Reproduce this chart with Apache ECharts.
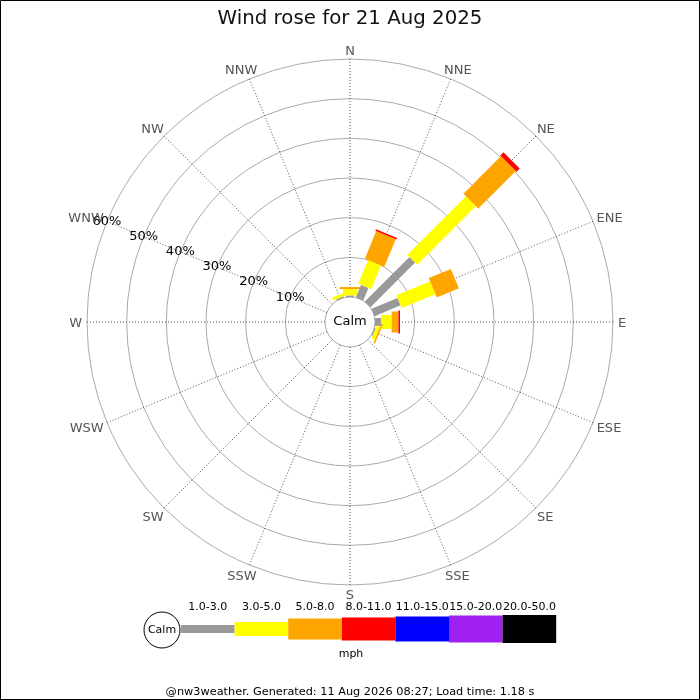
<!DOCTYPE html>
<html>
<head>
<meta charset="UTF-8">
<title>Wind rose</title>
<style>
	html, body { margin: 0; padding: 0; background: #fff; }
	#rose { width: 700px; height: 700px; }
</style>
</head>
<body>
<div id="rose"></div>
<script src="https://cdn.jsdelivr.net/npm/echarts@6/dist/echarts.min.js"></script>
<script>
// compass points, clockwise from north
var directions = ['N', 'NNE', 'NE', 'ENE', 'E', 'ESE', 'SE', 'SSE', 'S', 'SSW', 'SW', 'WSW', 'W', 'WNW', 'NW', 'NNW'];
// speed classes in mph
var speedBins = ['1.0-3.0', '3.0-5.0', '5.0-8.0', '8.0-11.0', '11.0-15.0', '15.0-20.0', '20.0-50.0'];

// % of the day in each direction, one array per speed class
var pct1to3   = [0.4, 3.4, 15.9, 7.1, 1.5, 0.3, 0, 0, 0, 0, 0, 0, 0, 0, 0, 0.3];
var pct3to5   = [1.6, 6.5, 20.9, 9.2, 2.7, 0.9, 0, 0, 0, 0, 0, 0, 0, 0, 0, 0.8];
var pct5to8   = [0.5, 7.5, 13.4, 6.0, 1.7, 0.4, 0, 0, 0, 0, 0, 0, 0, 0, 0, 0];
var pct8to11  = [0, 0.4, 1.1, 0, 0.4, 0, 0, 0, 0, 0, 0, 0, 0, 0, 0, 0];
var pct11to15 = [0, 0, 0, 0, 0, 0, 0, 0, 0, 0, 0, 0, 0, 0, 0, 0];
var pct15to20 = [0, 0, 0, 0, 0, 0, 0, 0, 0, 0, 0, 0, 0, 0, 0, 0];
var pct20to50 = [0, 0, 0, 0, 0, 0, 0, 0, 0, 0, 0, 0, 0, 0, 0, 0];
var binValues = [pct1to3, pct3to5, pct5to8, pct8to11, pct11to15, pct15to20, pct20to50];

// radius axis ticks (percent)
var radiusMax = 60;
var radiusStep = 10;

// look of each speed class: colour and bar thickness
var binColors = ['#999999', '#ffff00', '#ffa500', '#ff0000', '#0000ff', '#a020f0', '#000000'];
var binWidths = [8, 14, 21, 23, 25, 27, 28];

var fontName = 'DejaVu Sans';
// radius axis is laid along WNW, so angle 0 sits at compass 292.5
var axisOffset = 292.5;

function compassToAxis(i) {
	return (i * 22.5 - axisOffset + 360) % 360;
}

// stack the classes outwards in each direction: [end, angle, start, class]
var roseData = [];
// one label per compass point: [radius, angle, index]
var labelData = [];
for (var d = 0; d < directions.length; d++) {
	var sum = 0;
	for (var b = 0; b < binValues.length; b++) {
		var v = binValues[b][d];
		if (v > 0) {
			roseData.push([sum + v, compassToAxis(d), sum, b]);
			sum += v;
		}
	}
	labelData.push([radiusMax, compassToAxis(d), d]);
}

// unit vector pointing outwards at an angle value
function outward(api, ang) {
	var base = api.coord([0, ang]);
	var far = api.coord([radiusMax, ang]);
	var len = Math.sqrt(Math.pow(far[0] - base[0], 2) + Math.pow(far[1] - base[1], 2));
	return [(far[0] - base[0]) / len, (far[1] - base[1]) / len];
}

function renderBar(params, api) {
	var ang = api.value(1);
	var inner = api.coord([api.value(2), ang]);
	var outer = api.coord([api.value(0), ang]);
	var u = outward(api, ang);
	var bin = api.value(3);
	var hw = binWidths[bin] / 2;
	var nx = -u[1] * hw, ny = u[0] * hw;
	return {
		type: 'polygon',
		shape: {
			points: [
				[inner[0] + nx, inner[1] + ny],
				[outer[0] + nx, outer[1] + ny],
				[outer[0] - nx, outer[1] - ny],
				[inner[0] - nx, inner[1] - ny]
			]
		},
		style: { fill: binColors[bin] }
	};
}

// measure label width so the box can sit just outside the ring
var measureCtx = document.createElement('canvas').getContext('2d');
measureCtx.font = '13px "DejaVu Sans"';

function renderLabel(params, api) {
	var ang = api.value(1);
	var name = directions[api.value(2)];
	var p = api.coord([api.value(0), ang]);
	var u = outward(api, ang);
	var halfW = measureCtx.measureText(name).width / 2;
	var gap = 5;
	// diagonal labels sit a little further out vertically
	var offY = 9 + 3 * Math.sqrt(Math.abs(u[0]));
	return {
		type: 'text',
		x: p[0] + u[0] * (gap + halfW),
		y: p[1] + u[1] * offY + 1.5,
		style: {
			text: name, fontSize: 13, fontFamily: fontName, fill: '#555',
			align: 'center', verticalAlign: 'middle'
		}
	};
}

// legend along the bottom
var legendItems = [];
var legX = 181, legStep = 53.6, legY = 629;
legendItems.push({
	type: 'circle', shape: { cx: 162, cy: 630, r: 18 },
	style: { fill: '#fff', stroke: '#000', lineWidth: 1 }
});
legendItems.push({
	type: 'text', x: 162, y: 630,
	style: { text: 'Calm', fontSize: 11, fontFamily: fontName, fill: '#000', align: 'center', verticalAlign: 'middle' }
});
for (var k = 0; k < speedBins.length; k++) {
	legendItems.push({
		type: 'rect',
		shape: { x: legX + k * legStep, y: legY - binWidths[k] / 2, width: legStep, height: binWidths[k] },
		style: { fill: binColors[k] }
	});
	legendItems.push({
		type: 'text', x: legX + k * legStep + legStep / 2, y: 607,
		style: { text: speedBins[k], fontSize: 11, fontFamily: fontName, fill: '#000', align: 'center', verticalAlign: 'middle' }
	});
}
legendItems.push({
	type: 'text', x: 351, y: 654,
	style: { text: 'mph', fontSize: 11, fontFamily: fontName, fill: '#000', align: 'center', verticalAlign: 'middle' }
});

var chart = echarts.init(document.getElementById('rose'));

var option = {
	animation: false,
	backgroundColor: '#fff',
	textStyle: { fontFamily: fontName },
	title: {
		text: 'Wind rose for 21 Aug 2025',
		left: 'center',
		top: 9,
		padding: 0,
		textStyle: { fontSize: 19.8, fontWeight: 'normal', color: '#111', fontFamily: fontName }
	},
	polar: {
		center: [350, 322],
		radius: [25, 263]
	},
	angleAxis: {
		type: 'value',
		min: 0,
		max: 360,
		interval: 22.5,
		startAngle: 157.5,
		clockwise: true,
		axisLine: { show: false },
		axisTick: { show: false },
		axisLabel: { show: false },
		splitLine: { show: true, lineStyle: { color: '#555', width: 1, type: [1, 2] } }
	},
	radiusAxis: {
		type: 'value',
		min: 0,
		max: radiusMax,
		interval: radiusStep,
		axisLine: { show: false },
		axisTick: { show: false },
		axisLabel: {
			margin: 0,
			align: 'center',
			verticalAlign: 'middle',
			padding: [3, 0, 0, 0],
			color: '#000',
			fontSize: 13,
			fontFamily: fontName,
			formatter: function (v) { return v === 0 ? '' : v + '%'; }
		},
		splitLine: { show: true, lineStyle: { color: '#aaa', width: 1 } }
	},
	series: [{
		type: 'custom',
		coordinateSystem: 'polar',
		renderItem: renderBar,
		data: roseData
	}, {
		type: 'custom',
		coordinateSystem: 'polar',
		renderItem: renderLabel,
		silent: true,
		data: labelData
	}],
	graphic: [
		{
			type: 'text', x: 350, y: 322, z: 10,
			style: { text: 'Calm', fontSize: 13, fontFamily: fontName, fill: '#000', align: 'center', verticalAlign: 'middle' }
		},
		{ type: 'group', children: legendItems },
		{
			type: 'text', x: 350, y: 692,
			style: { text: '@nw3weather. Generated: 11 Aug 2026 08:27; Load time: 1.18 s', fontSize: 11.3, fontFamily: fontName, fill: '#000', align: 'center', verticalAlign: 'middle' }
		},
		{
			type: 'rect', shape: { x: 0.5, y: 0.5, width: 699, height: 699 },
			style: { fill: 'none', stroke: '#000', lineWidth: 1 }
		}
	]
};

chart.setOption(option);
</script>
</body>
</html>
